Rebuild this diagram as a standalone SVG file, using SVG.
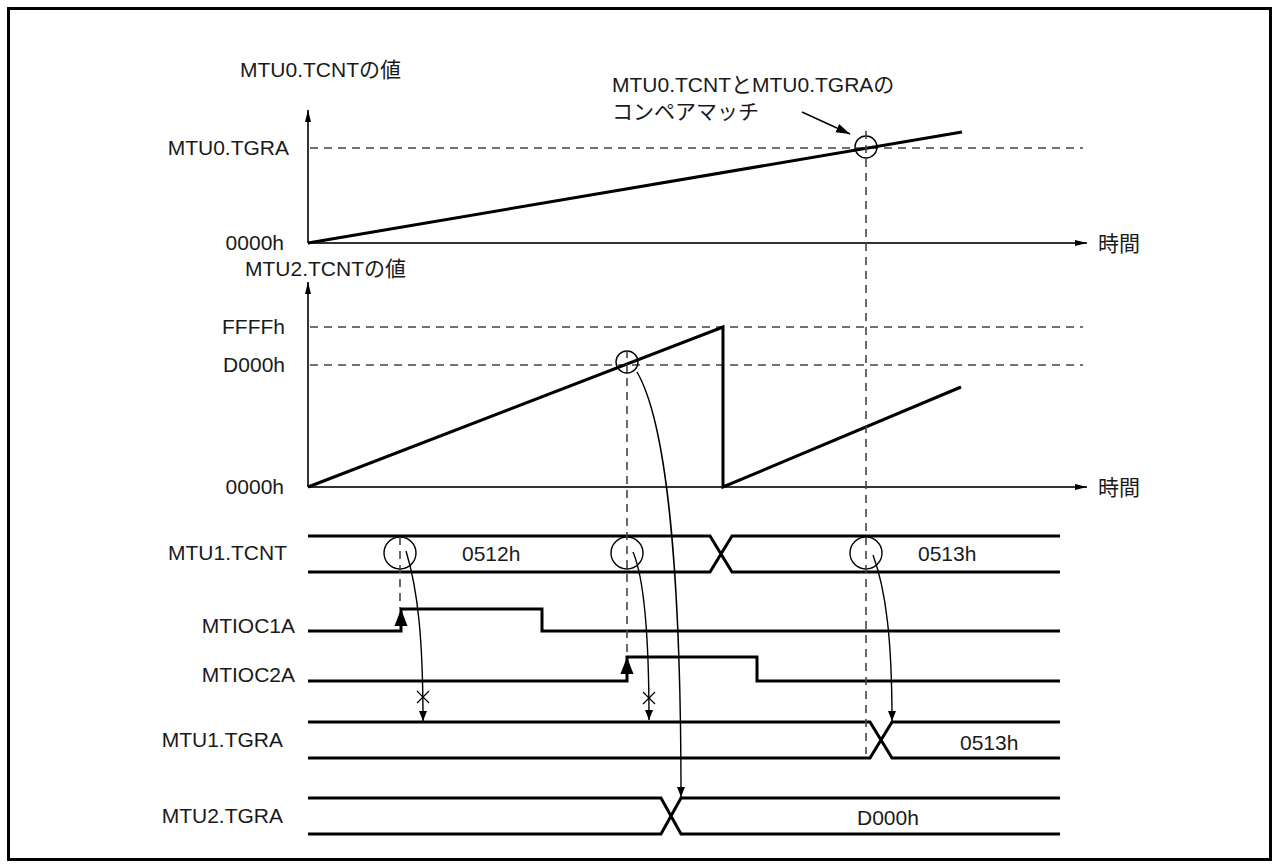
<svg xmlns="http://www.w3.org/2000/svg" width="1279" height="868" viewBox="0 0 1279 868">
<style>
text{font-family:"Liberation Sans","Noto Sans CJK JP",sans-serif;font-size:21px;fill:#1a1a1a}
.e{text-anchor:end}
.ax{stroke:#333;stroke-width:2;fill:none}
.ramp{stroke:#000;stroke-width:3;fill:none}
.dash{stroke:#444;stroke-width:1.6;stroke-dasharray:8,6;fill:none}
.bus{stroke:#000;stroke-width:3;fill:none;stroke-linejoin:miter}
.cur{stroke:#000;stroke-width:1.4;fill:none}
.cir{stroke:#000;stroke-width:1.4;fill:none}
.x{stroke:#000;stroke-width:1.2}
</style>
<defs>
<marker id="ah" viewBox="0 0 10 10" refX="10" refY="5" markerWidth="10" markerHeight="10" markerUnits="userSpaceOnUse" orient="auto"><path d="M0,1 L10,5 L0,9 Z" fill="#000"/></marker>
<marker id="axh" viewBox="0 0 12 6" refX="12" refY="3" markerWidth="12" markerHeight="6" markerUnits="userSpaceOnUse" orient="auto"><path d="M0,0 L12,3 L0,6 Z" fill="#000"/></marker>
<marker id="ch" viewBox="0 0 14 10" refX="14" refY="5" markerWidth="14" markerHeight="10" markerUnits="userSpaceOnUse" orient="auto"><path d="M0,0.5 L14,5 L0,9.5 Z" fill="#000"/></marker>
</defs>
<rect x="8.5" y="8.5" width="1262" height="851" fill="none" stroke="#000" stroke-width="3"/>

<g id="chart-mtu0">
<text x="240" y="77">MTU0.TCNTの値</text>
<text class="e" x="289" y="155">MTU0.TGRA</text>
<text class="e" x="284" y="250">0000h</text>
<text x="1098" y="251">時間</text>
<line class="ax" x1="308" y1="243" x2="308" y2="110" marker-end="url(#axh)"/>
<line class="ax" x1="308" y1="243" x2="1087" y2="243" marker-end="url(#axh)"/>
<line class="dash" x1="310" y1="148" x2="1083" y2="148"/>
<line class="ramp" x1="308" y1="243" x2="962" y2="132"/>
<circle class="cir" cx="866" cy="147" r="11"/>
<text x="612" y="92">MTU0.TCNTとMTU0.TGRAの</text>
<text x="612" y="119">コンペアマッチ</text>
</g>

<g id="chart-mtu2">
<text x="245" y="276">MTU2.TCNTの値</text>
<text class="e" x="285" y="334">FFFFh</text>
<text class="e" x="285" y="372">D000h</text>
<text class="e" x="284" y="494">0000h</text>
<text x="1098" y="495">時間</text>
<line class="ax" x1="308" y1="487" x2="308" y2="282" marker-end="url(#axh)"/>
<line class="ax" x1="308" y1="487" x2="1087" y2="487" marker-end="url(#axh)"/>
<line class="dash" x1="310" y1="327" x2="1083" y2="327"/>
<line class="dash" x1="310" y1="365" x2="1083" y2="365"/>
<path class="ramp" d="M308,487 L723,327 L723,487 L961,387"/>
<circle class="cir" cx="627" cy="362" r="11"/>
</g>

<g id="mtu1-tcnt">
<text class="e" x="287" y="560">MTU1.TCNT</text>
<path class="bus" d="M308,536 L710,536 L732,572 L1060,572 M308,572 L710,572 L732,536 L1060,536"/>
<text x="462" y="561">0512h</text>
<text x="918" y="561">0513h</text>
<circle class="cir" cx="400" cy="553" r="16"/>
<circle class="cir" cx="627" cy="553" r="16"/>
<circle class="cir" cx="866" cy="553" r="16"/>
</g>

<g id="mtioc1a">
<text class="e" x="295" y="633">MTIOC1A</text>
<path class="bus" d="M308,631 L401,631 L401,609 L542,609 L542,631 L1060,631"/>
<path d="M394.5,626 L401,609 L407.5,626 Z" fill="#000"/>
</g>

<g id="mtioc2a">
<text class="e" x="295" y="682">MTIOC2A</text>
<path class="bus" d="M308,681 L627,681 L627,657 L757,657 L757,681 L1060,681"/>
<path d="M620.5,674 L627,657 L633.5,674 Z" fill="#000"/>
</g>

<g id="mtu1-tgra">
<text class="e" x="283" y="747">MTU1.TGRA</text>
<path class="bus" d="M308,722 L870,722 L892,758 L1060,758 M308,758 L870,758 L892,722 L1060,722"/>
<text x="960" y="750">0513h</text>
</g>

<g id="mtu2-tgra">
<text class="e" x="283" y="823">MTU2.TGRA</text>
<path class="bus" d="M308,798 L661,798 L681,834 L1060,834 M308,834 L661,834 L681,798 L1060,798"/>
<text x="857" y="825">D000h</text>
</g>

<g id="connectors">
<line class="dash" x1="866" y1="131" x2="866" y2="754"/>
<line class="dash" x1="627" y1="350" x2="627" y2="657"/>
<line class="dash" x1="400" y1="537" x2="400" y2="608"/>
<line x1="802" y1="112" x2="850" y2="134" stroke="#000" stroke-width="1.4" marker-end="url(#ch)"/>
<path class="cur" d="M406,551 C418,590 423,640 423,721" marker-end="url(#ah)"/>
<path class="cur" d="M633,552 C645,580 649,640 649,720" marker-end="url(#ah)"/>
<path class="cur" d="M637,372 C665,420 681,560 681,797" marker-end="url(#ah)"/>
<path class="cur" d="M873,555 C886,590 892,640 892,721" marker-end="url(#ah)"/>
<path class="x" d="M417,691 L429,703 M429,691 L417,703"/>
<path class="x" d="M643,692 L655,704 M655,692 L643,704"/>
</g>
</svg>
